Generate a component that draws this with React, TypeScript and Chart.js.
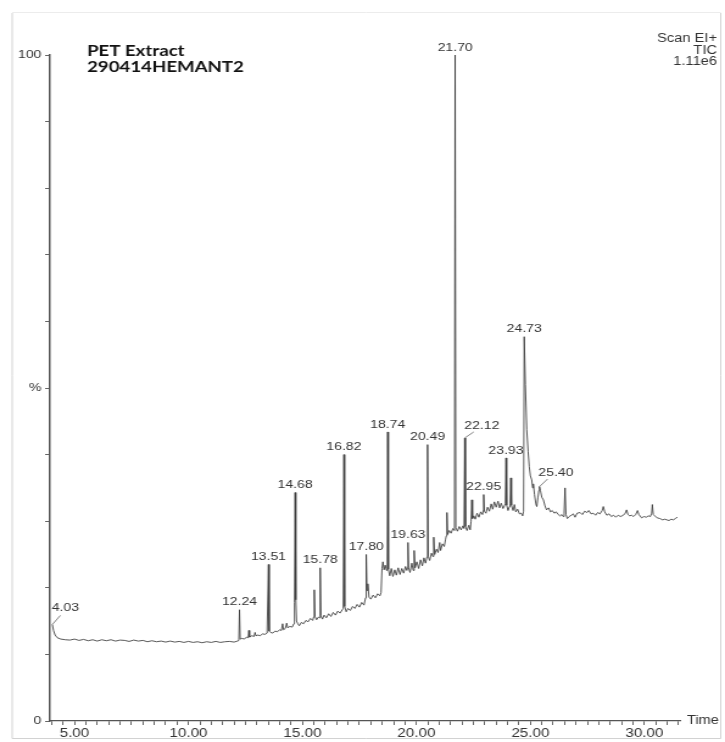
import React, { useEffect, useRef } from "react";
import { Chart, registerables } from "chart.js";

Chart.register(...registerables);

// Total ion chromatogram, PET extract (retention time in minutes, relative intensity in %)
const solventFront: [number, number][] = [
  [4.03, 14.5], [4.08, 13.6], [4.15, 12.9], [4.25, 12.5], [4.4, 12.3], [4.6, 12.2],
];

const flatBaseline: [number, number][] = [
  [4.8, 12.15], [5.0, 12.3], [5.2, 12.1], [5.4, 12.25], [5.6, 12.05], [5.8, 12.2], [6.0, 12.0],
  [6.2, 12.2], [6.4, 12.05], [6.6, 12.2], [6.8, 12.0], [7.0, 12.15], [7.2, 12.1], [7.4, 11.95],
  [7.6, 12.15], [7.8, 12.0], [8.0, 12.1], [8.2, 11.9], [8.4, 12.05], [8.6, 11.9], [8.8, 12.0],
  [9.0, 11.85], [9.2, 12.0], [9.4, 11.85], [9.6, 11.95], [9.8, 11.8], [10.0, 11.95], [10.2, 11.8],
  [10.4, 11.9], [10.6, 11.75], [10.8, 11.9], [11.0, 11.8], [11.2, 11.95], [11.4, 11.8],
  [11.6, 11.9], [11.8, 11.95], [12.0, 11.85], [12.15, 12.0],
];

const earlyPeaks: [number, number][] = [
  [12.21, 12.1], [12.24, 16.7], [12.27, 12.3], [12.35, 12.4], [12.45, 12.3], [12.55, 12.6],
  [12.62, 12.5], [12.65, 13.6], [12.68, 12.6], [12.78, 12.8], [12.88, 12.7], [12.92, 13.3],
  [12.96, 12.8], [13.05, 12.9], [13.15, 12.8], [13.25, 13.1], [13.35, 13.0], [13.45, 13.2],
  [13.49, 13.2], [13.51, 23.5], [13.54, 13.5], [13.6, 13.3], [13.7, 13.2], [13.8, 13.5],
  [13.9, 13.4], [14.0, 13.7], [14.08, 13.6], [14.13, 14.6], [14.17, 13.7], [14.25, 13.9],
  [14.31, 14.7], [14.35, 14.0], [14.45, 14.2], [14.55, 14.1], [14.62, 14.6], [14.65, 17.8],
  [14.68, 34.3], [14.71, 18.2], [14.74, 15.0], [14.8, 14.6], [14.86, 14.3], [14.95, 14.8],
  [15.05, 14.6], [15.15, 15.1], [15.25, 14.9], [15.35, 15.4], [15.45, 15.1], [15.49, 15.6],
  [15.52, 19.7], [15.55, 15.7], [15.62, 15.2], [15.7, 15.6], [15.75, 15.5], [15.78, 23.0],
  [15.81, 15.8], [15.88, 15.3], [15.95, 15.9], [16.05, 15.5], [16.15, 16.1], [16.25, 15.7],
  [16.35, 16.3], [16.45, 15.9], [16.55, 16.5], [16.65, 16.2], [16.75, 16.7], [16.79, 16.9],
  [16.82, 40.0], [16.85, 17.2], [16.92, 16.4], [17.0, 16.9], [17.1, 16.6], [17.2, 17.2],
  [17.3, 16.9], [17.4, 17.5], [17.5, 17.1], [17.6, 17.8], [17.7, 17.4], [17.77, 18.5],
  [17.8, 25.0], [17.83, 19.6], [17.87, 20.6], [17.92, 18.6], [18.0, 18.3], [18.1, 18.9],
  [18.2, 18.5], [18.3, 19.1], [18.4, 18.8], [18.45, 19.3],
];

const midPeaks: [number, number][] = [
  [18.49, 22.9], [18.53, 23.9], [18.58, 22.7], [18.63, 23.4], [18.69, 22.6], [18.72, 22.9],
  [18.74, 43.4], [18.77, 22.8], [18.83, 21.8], [18.9, 22.9], [18.97, 21.7], [19.05, 22.7],
  [19.12, 21.9], [19.2, 23.0], [19.28, 22.0], [19.36, 22.9], [19.44, 22.2], [19.52, 23.2],
  [19.58, 22.6], [19.61, 23.0], [19.63, 26.8], [19.66, 23.0], [19.72, 22.3], [19.8, 23.7],
  [19.86, 22.6], [19.9, 25.6], [19.94, 23.0], [20.02, 23.9], [20.1, 22.9], [20.18, 24.2],
  [20.26, 23.3], [20.33, 24.5], [20.4, 23.7], [20.46, 24.6], [20.49, 41.5], [20.52, 24.7],
  [20.58, 24.1], [20.66, 25.2], [20.72, 24.7], [20.76, 27.6], [20.8, 25.0], [20.88, 25.8],
  [20.95, 25.3], [21.02, 26.8], [21.06, 25.6], [21.14, 26.6], [21.22, 26.2], [21.28, 27.3],
  [21.31, 27.8], [21.34, 31.3], [21.37, 28.0], [21.44, 28.6], [21.52, 28.2], [21.6, 28.9],
  [21.67, 28.6],
];

const latePeaks: [number, number][] = [
  [21.7, 100], [21.73, 29.0], [21.8, 28.5], [21.88, 29.2], [21.96, 28.7], [22.04, 29.3],
  [22.09, 28.9], [22.12, 42.5], [22.15, 29.2], [22.22, 28.6], [22.3, 29.4], [22.36, 28.7],
  [22.4, 30.0], [22.43, 33.2], [22.46, 30.4], [22.52, 30.8], [22.58, 30.3], [22.66, 31.2],
  [22.74, 30.6], [22.82, 31.4], [22.9, 31.0], [22.93, 31.6], [22.95, 34.0], [22.98, 31.5],
  [23.05, 31.2], [23.12, 32.1], [23.2, 31.5], [23.28, 32.6], [23.35, 31.8], [23.42, 32.9],
  [23.5, 32.1], [23.58, 33.0], [23.65, 32.0], [23.72, 32.7], [23.8, 31.9], [23.86, 32.3],
  [23.9, 32.6], [23.93, 39.5], [23.96, 32.4], [24.02, 31.6], [24.08, 32.2], [24.11, 32.6],
  [24.14, 36.5], [24.17, 32.4], [24.24, 31.6], [24.3, 32.5], [24.36, 31.4], [24.44, 31.8],
  [24.52, 31.1], [24.6, 31.2], [24.66, 30.8], [24.7, 31.5], [24.73, 57.7],
];

const tailRegion: [number, number][] = [
  [24.78, 50.5], [24.84, 43.8], [24.9, 40.5], [24.95, 38.2], [25.0, 36.8], [25.06, 36.2],
  [25.1, 35.0], [25.13, 35.6], [25.18, 34.0], [25.24, 32.6], [25.28, 32.2], [25.33, 33.5],
  [25.37, 34.6], [25.4, 35.2], [25.44, 34.6], [25.5, 33.6], [25.57, 33.2], [25.64, 32.3],
  [25.71, 31.7], [25.8, 32.0], [25.88, 31.4], [25.96, 31.6], [26.05, 31.2], [26.13, 31.4],
  [26.22, 31.0], [26.3, 30.8], [26.38, 31.0], [26.44, 30.7], [26.48, 31.2], [26.52, 35.0],
  [26.56, 31.0], [26.62, 30.4], [26.7, 30.7], [26.8, 30.9], [26.88, 31.1], [26.96, 30.6],
  [27.05, 31.2], [27.18, 31.3], [27.28, 31.0], [27.38, 31.5], [27.48, 31.3], [27.56, 31.6],
  [27.66, 31.1], [27.76, 31.2], [27.86, 30.9], [27.95, 31.3], [28.05, 31.1], [28.15, 31.6],
  [28.2, 32.2], [28.26, 31.4], [28.35, 30.9], [28.45, 31.1], [28.55, 30.7], [28.65, 30.9],
  [28.75, 30.6], [28.85, 30.9], [28.95, 30.7], [29.08, 30.9], [29.16, 31.2], [29.22, 31.7],
  [29.28, 31.0], [29.36, 30.8], [29.44, 30.9], [29.52, 30.7], [29.62, 31.0], [29.7, 31.6],
  [29.76, 31.0], [29.88, 30.5], [29.98, 30.7], [30.08, 30.6], [30.18, 30.8], [30.26, 30.7],
  [30.32, 31.2], [30.35, 32.5], [30.39, 31.0], [30.46, 30.8], [30.56, 30.5], [30.68, 30.4],
  [30.8, 30.2], [30.9, 30.3], [30.98, 30.2], [31.08, 30.1], [31.18, 30.3], [31.27, 30.2],
  [31.36, 30.4], [31.45, 30.6],
];

// Retention times annotated on the trace
const labelledPeakTimes = [
  4.03, 12.24, 13.51, 14.68, 15.78, 16.82, 17.8, 18.74, 19.63, 20.49, 21.7, 22.12, 22.95,
  23.93, 24.73, 25.4,
];

const xMajorTicks = [5, 10, 15, 20, 25, 30];
const yLabelledTicks: Record<number, string> = { 0: "0", 50: "%", 100: "100" };

const sampleName = ["PET Extract", "290414HEMANT2"];
const acquisitionInfo = ["Scan EI+", "TIC", "1.11e6"];
const xAxisName = "Time";

// ---- layout (canvas units; the canvas is widened to the page by CSS) ----
const CANVAS_W = 595;
const CANVAS_H = 742;
const PAGE_W = 725;
const X_MIN = 3.925;
const X_MAX = 31.56;

// label offsets from the apex: [dx, dy, leaderX, leaderY]
const labelOffsets: Record<string, [number, number, number, number]> = {
  "4.03": [10.7, -17, 6.6, -9],
  "22.12": [14, -12, 7.4, -6],
  "25.40": [13.5, -14, 6.6, -7.5],
};

const trace = [...solventFront, ...flatBaseline, ...earlyPeaks, ...midPeaks, ...latePeaks, ...tailRegion];

const LABEL_FONT = '"Liberation Sans", Arial, sans-serif';

const decorations = {
  id: "chromDecorations",
  beforeDraw(chart: Chart) {
    const ctx = chart.ctx;
    ctx.save();
    ctx.lineWidth = 1;
    ctx.strokeStyle = "#d2d2d2";
    ctx.beginPath();
    ctx.moveTo(10, 13);
    ctx.lineTo(10, 738.5);
    ctx.lineTo(591.5, 738.5);
    ctx.lineTo(591.5, 13);
    ctx.stroke();
    ctx.strokeStyle = "#ececec";
    ctx.beginPath();
    ctx.moveTo(10, 12.5);
    ctx.lineTo(591.5, 12.5);
    ctx.stroke();
    ctx.restore();
  },
  afterDatasetsDraw(chart: Chart) {
    const ctx = chart.ctx;
    const xs = chart.scales.x;
    const ys = chart.scales.y;
    ctx.save();
    ctx.fillStyle = "#333";
    ctx.strokeStyle = "#666";
    ctx.lineWidth = 0.8;
    ctx.font = `11.5px ${LABEL_FONT}`;
    ctx.textAlign = "center";
    ctx.textBaseline = "middle";
    for (const t of labelledPeakTimes) {
      const apex = trace.find((p) => Math.abs(p[0] - t) < 1e-9);
      if (!apex) continue;
      const px = xs.getPixelForValue(apex[0]);
      const py = ys.getPixelForValue(apex[1]);
      const text = t.toFixed(2);
      const off = labelOffsets[text];
      if (off) {
        ctx.beginPath();
        ctx.moveTo(px, py);
        ctx.lineTo(px + off[2], py + off[3]);
        ctx.stroke();
        ctx.fillText(text, px + off[0], py + off[1]);
      } else {
        ctx.fillText(text, px, py - 7.5);
      }
    }

    // sample name
    ctx.textAlign = "left";
    ctx.fillStyle = "#111";
    ctx.font = `bold 15.3px Lato, "Open Sans", sans-serif`;
    ctx.fillText(sampleName[0], 71.4, 51);
    ctx.fillText(sampleName[1], 71.4, 67.5);

    // acquisition info
    ctx.textAlign = "right";
    ctx.fillStyle = "#333";
    ctx.font = `12px ${LABEL_FONT}`;
    ctx.fillText(acquisitionInfo[0], 588.4, 39);
    ctx.fillText(acquisitionInfo[1], 588.4, 50.5);
    ctx.fillText(acquisitionInfo[2], 588.4, 62);

    // x axis name
    ctx.textAlign = "left";
    ctx.font = `12px ${LABEL_FONT}`;
    ctx.fillText(xAxisName, 563.8, 721);
    ctx.restore();
  },
};

export default function App() {
  const canvasRef = useRef<HTMLCanvasElement>(null);

  useEffect(() => {
    const canvas = canvasRef.current;
    if (!canvas) return;
    const chart = new Chart(canvas, {
      type: "line",
      data: {
        datasets: [
          {
            data: trace.map(([x, y]) => ({ x, y })),
            borderColor: "#3a3a3a",
            borderWidth: 0.85,
            pointRadius: 0,
            tension: 0,
            fill: false,
            clip: false,
          },
        ],
      },
      options: {
        responsive: false,
        devicePixelRatio: 1,
        animation: false,
        events: [],
        layout: { padding: { left: 8, right: 37, top: 55, bottom: 1 } },
        plugins: { legend: { display: false }, tooltip: { enabled: false } },
        scales: {
          x: {
            type: "linear",
            min: X_MIN,
            max: X_MAX,
            afterBuildTicks: (scale: any) => {
              const ticks = [];
              for (let i = 8; i <= 63; i++) ticks.push({ value: i / 2 });
              scale.ticks = ticks;
            },
            afterFit: (scale: any) => {
              scale.height = 20;
            },
            grid: { display: true, drawOnChartArea: false, drawTicks: true, tickLength: 4, color: "#666", lineWidth: 1 },
            border: { display: true, color: "#555", width: 1.3 },
            ticks: {
              autoSkip: false,
              maxRotation: 0,
              padding: 1,
              color: "#333",
              font: { family: LABEL_FONT, size: 12.5 },
              callback: (v: any) => {
                const n = Number(v);
                return xMajorTicks.some((m) => Math.abs(m - n) < 1e-6) ? n.toFixed(2) : "";
              },
            },
          },
          y: {
            type: "linear",
            min: 0,
            max: 100,
            afterFit: (scale: any) => {
              scale.width = 33;
            },
            grid: { display: true, drawOnChartArea: false, drawTicks: true, tickLength: 4, color: "#666", lineWidth: 1 },
            border: { display: true, color: "#555", width: 1.5 },
            ticks: {
              stepSize: 10,
              autoSkip: false,
              padding: 3,
              color: "#333",
              font: { family: LABEL_FONT, size: 11.5 },
              callback: (v: any) => yLabelledTicks[Number(v)] ?? "",
            },
          },
        },
      },
      plugins: [decorations],
    });
    return () => chart.destroy();
  }, []);

  return (
    <div style={{ position: "fixed", left: 0, top: 0, width: PAGE_W, height: CANVAS_H, background: "#fff" }}>
      <canvas
        ref={canvasRef}
        width={CANVAS_W}
        height={CANVAS_H}
        style={{ width: `${PAGE_W}px`, height: `${CANVAS_H}px`, display: "block" }}
      />
    </div>
  );
}
